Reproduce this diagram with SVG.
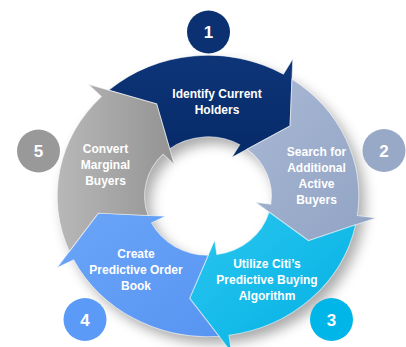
<svg xmlns="http://www.w3.org/2000/svg" width="406" height="347" viewBox="0 0 406 347">
  <defs>
    <style>
      .lbl { font-family: "Liberation Sans", Arial, sans-serif; font-weight: bold; font-size: 12px; fill: #ffffff; text-anchor: middle; }
      .num { font-family: "Liberation Sans", Arial, sans-serif; font-weight: bold; font-size: 17px; fill: #ffffff; text-anchor: middle; }
      .seg { stroke: #ffffff; stroke-opacity: 0.55; stroke-width: 1; stroke-linejoin: miter; }
    </style>
    <filter id="shadow" x="-20%" y="-20%" width="140%" height="140%">
      <feGaussianBlur stdDeviation="6"/>
    </filter>
    <linearGradient id="g1" x1="0" y1="0" x2="0" y2="1">
      <stop offset="0" stop-color="#0d3578"/>
      <stop offset="1" stop-color="#072a68"/>
    </linearGradient>
    <linearGradient id="g2" x1="0" y1="0" x2="1" y2="1">
      <stop offset="0" stop-color="#a8b8d4"/>
      <stop offset="1" stop-color="#91a3c4"/>
    </linearGradient>
    <linearGradient id="g3" x1="0" y1="0" x2="1" y2="1">
      <stop offset="0" stop-color="#2cc6f0"/>
      <stop offset="1" stop-color="#00b0e2"/>
    </linearGradient>
    <linearGradient id="g4" x1="0" y1="0" x2="1" y2="1">
      <stop offset="0" stop-color="#6aa5f8"/>
      <stop offset="1" stop-color="#5895f2"/>
    </linearGradient>
    <linearGradient id="g5" x1="0" y1="0" x2="1" y2="0">
      <stop offset="0" stop-color="#b8b8b8"/>
      <stop offset="1" stop-color="#939393"/>
    </linearGradient>
  </defs>

  <rect x="0" y="0" width="406" height="347" fill="#ffffff"/>

  <!-- soft ring shadow -->
  <path transform="translate(214 203) scale(1.04 0.97)" fill="#000000" fill-opacity="0.33" fill-rule="evenodd" filter="url(#shadow)"
        d="M-145,0 A145,145 0 1 1 145,0 A145,145 0 1 1 -145,0 Z M-61,0 A61,61 0 1 0 61,0 A61,61 0 1 0 -61,0 Z"/>

  <g id="node1">
    <path class="seg" fill="url(#g1)" transform="translate(208 196) scale(1.04 0.97)"
          d="M-95.45,-109.15 A145,145 0 0 1 72.5,-125.57 L81.5,-141.16 L78.89,-72.29 L23,-39.84 L30.5,-52.83 A61,61 0 0 0 -36.87,-48.60 L-49.41,-94.91 Z"/>
    <text class="lbl" x="217" y="98">Identify Current</text>
    <text class="lbl" x="217" y="114">Holders</text>
    <circle cx="208.5" cy="32" r="21.5" fill="#0b3172"/>
    <text class="num" x="208.5" y="38">1</text>
  </g>

  <g id="node2">
    <path class="seg" fill="url(#g2)" transform="translate(208 196) scale(1.04 0.97)"
          d="M80.73,-120.45 A145,145 0 0 1 143.59,20.18 L161.41,22.68 L96.58,46.06 L45.55,6.40 L60.41,8.49 A61,61 0 0 0 37.40,-48.19 L78.89,-72.29 Z"/>
    <text class="lbl" x="316.5" y="156">Search for</text>
    <text class="lbl" x="316.5" y="172">Additional</text>
    <text class="lbl" x="316.5" y="188">Active</text>
    <text class="lbl" x="316.5" y="204">Buyers</text>
    <circle cx="384" cy="150.5" r="21.5" fill="#97a9c7"/>
    <text class="num" x="384" y="157">2</text>
  </g>

  <g id="node3">
    <path class="seg" fill="url(#g3)" transform="translate(208 196) scale(1.04 0.97)"
          d="M141.92,29.73 A145,145 0 0 1 20.18,143.59 L22.68,161.41 L-17.66,105.53 L6.40,45.55 L8.49,60.41 A61,61 0 0 0 58.69,16.62 L96.58,46.06 Z"/>
    <text class="lbl" x="267" y="268">Utilize Citi’s</text>
    <text class="lbl" x="267" y="284">Predictive Buying</text>
    <text class="lbl" x="267" y="300">Algorithm</text>
    <circle cx="331.5" cy="319.5" r="21.5" fill="#00b5e8"/>
    <text class="num" x="331.5" y="326">3</text>
  </g>

  <g id="node4">
    <path class="seg" fill="url(#g4)" transform="translate(208 196) scale(1.04 0.97)"
          d="M10.54,144.62 A145,145 0 0 1 -129.20,65.83 L-145.23,74.00 L-105.53,17.66 L-40.99,20.88 L-54.35,27.69 A61,61 0 0 0 0.20,61.00 L-17.66,105.53 Z"/>
    <text class="lbl" x="136" y="258">Create</text>
    <text class="lbl" x="136" y="274">Predictive Order</text>
    <text class="lbl" x="136" y="290">Book</text>
    <circle cx="85" cy="319.5" r="21.5" fill="#5b9bf7"/>
    <text class="num" x="85" y="326">4</text>
  </g>

  <g id="node5">
    <path class="seg" fill="url(#g5)" transform="translate(208 196) scale(1.04 0.97)"
          d="M-133.30,57.05 A145,145 0 0 1 -102.53,-102.53 L-115.26,-115.26 L-49.41,-94.91 L-32.53,-32.53 L-43.13,-43.13 A61,61 0 0 0 -57.61,20.05 L-105.53,17.66 Z"/>
    <text class="lbl" x="105.5" y="153">Convert</text>
    <text class="lbl" x="105.5" y="169">Marginal</text>
    <text class="lbl" x="105.5" y="185">Buyers</text>
    <circle cx="38.5" cy="151" r="21.5" fill="#999999"/>
    <text class="num" x="38.5" y="157">5</text>
  </g>
</svg>
